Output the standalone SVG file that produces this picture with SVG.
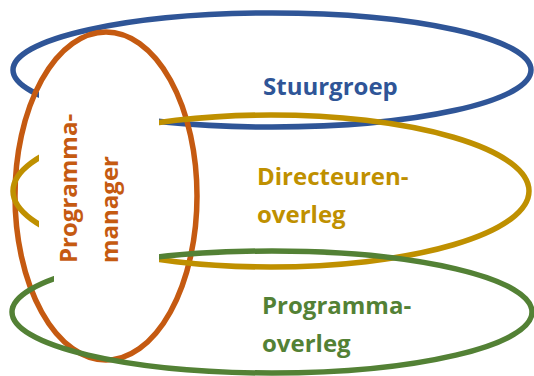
<svg xmlns="http://www.w3.org/2000/svg" width="534" height="376" viewBox="0 0 534 376">
  <style>
    .ring { fill: none; stroke-width: 5.5; }
    .lbl { font-family: "Open Sans", "Liberation Sans", sans-serif; font-weight: 700; font-size: 24px; }
    .blue { stroke: #2F5597; }
    .blueT { fill: #2F5597; }
    .orange { stroke: #C55A11; }
    .orangeT { fill: #C55A11; }
    .gold { stroke: #BF9000; }
    .goldT { fill: #BF9000; }
    .green { stroke: #538135; }
    .greenT { fill: #538135; }
  </style>
  <defs>
    <clipPath id="cutA">
      <path clip-rule="evenodd" d="M0 0H534V376H0Z M39 75H159V300H39Z"/>
    </clipPath>
    <clipPath id="cutB">
      <path clip-rule="evenodd" d="M0 0H534V376H0Z M54 75H159V300H54Z"/>
    </clipPath>
  </defs>
  <rect width="534" height="376" fill="#FFFFFF"/>
  <g id="stuurgroep">
    <ellipse class="ring blue" cx="272" cy="70" rx="259" ry="57" clip-path="url(#cutA)"/>
    <text class="lbl blueT" x="263" y="95">Stuurgroep</text>
  </g>
  <g id="programmamanager">
    <ellipse class="ring orange" cx="106" cy="196" rx="91" ry="164"/>
    <text class="lbl orangeT" transform="translate(77 263) rotate(-90)">Programma-</text>
    <text class="lbl orangeT" transform="translate(118 263) rotate(-90)">manager</text>
  </g>
  <g id="directeurenoverleg">
    <ellipse class="ring gold" cx="271" cy="191" rx="258" ry="76" clip-path="url(#cutA)"/>
    <text class="lbl goldT" x="257" y="184.5">Directeuren-</text>
    <text class="lbl goldT" x="257" y="223">overleg</text>
  </g>
  <g id="programmaoverleg">
    <ellipse class="ring green" cx="272" cy="312" rx="260" ry="61" clip-path="url(#cutB)"/>
    <text class="lbl greenT" x="262" y="314">Programma-</text>
    <text class="lbl greenT" x="262" y="352">overleg</text>
  </g>
  <g id="connectors"/>
</svg>
